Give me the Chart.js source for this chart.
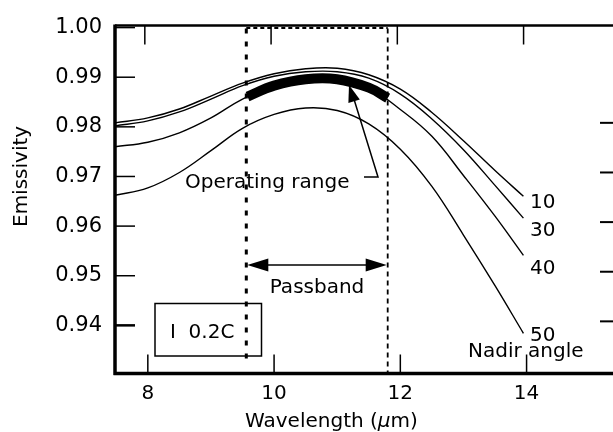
<!DOCTYPE html>
<html>
<head>
<meta charset="utf-8">
<script src="https://cdn.jsdelivr.net/npm/chart.js@4.4.1/dist/chart.umd.min.js"></script>
<style>
	html, body { margin: 0; padding: 0; background: #fff; overflow: hidden; }
	#wrap { width: 625px; height: 432px; }
</style>
</head>
<body>
<div id="wrap"><canvas id="emissivityChart" width="625" height="432"></canvas></div>
<script>
// Wavelength samples (um) and emissivity for each nadir angle
var wavelength = [7.48, 8, 8.5, 9, 9.5, 10, 10.5, 11, 11.5, 12, 12.5, 13, 13.5, 13.95];
var nadir10 = [0.9808, 0.9818, 0.9836, 0.9862, 0.9888, 0.9907, 0.9917, 0.9918, 0.9905, 0.9876, 0.9829, 0.9772, 0.9712, 0.9660];
var nadir30 = [0.9802, 0.9812, 0.9830, 0.9856, 0.9883, 0.9902, 0.9911, 0.9911, 0.9898, 0.9866, 0.9816, 0.9754, 0.9682, 0.9616];
var nadir40 = [0.9760, 0.9769, 0.9788, 0.9818, 0.9856, 0.9882, 0.9895, 0.9895, 0.9878, 0.9835, 0.9781, 0.9702, 0.9620, 0.9541];
var nadir50 = [0.9662, 0.9677, 0.9708, 0.9752, 0.9797, 0.9825, 0.9838, 0.9833, 0.9806, 0.9755, 0.9680, 0.9582, 0.9480, 0.9384];

// Operating range (thick band) and passband limits
var operatingX = [9.58, 10, 10.5, 11, 11.5, 11.8];
var operatingRange = [0.9861, 0.9883, 0.9896, 0.9896, 0.9879, 0.9858];
var passband = [9.56, 11.8];

// Axis ticks
var xTicks = [8, 10, 12, 14];
var yTicks = [0.94, 0.95, 0.96, 0.97, 0.98, 0.99, 1.00];
var rightTicks = [0.94, 0.95, 0.96, 0.97, 0.98];

var FONT = '"DejaVu Sans", Verdana, sans-serif';
Chart.defaults.font.family = FONT;
Chart.defaults.color = '#000';

function toPoints(xs, ys) {
	return xs.map(function(x, i) { return { x: x, y: ys[i] }; });
}

function curve(label, values) {
	return {
		label: label,
		data: toPoints(wavelength, values),
		borderColor: '#000',
		borderWidth: 1.4,
		pointRadius: 0,
		tension: 0.4,
		fill: false
	};
}

function arrowHead(ctx, tipX, tipY, fromX, fromY, len, half) {
	var a = Math.atan2(tipY - fromY, tipX - fromX);
	var bx = tipX - len * Math.cos(a), by = tipY - len * Math.sin(a);
	ctx.beginPath();
	ctx.moveTo(tipX, tipY);
	ctx.lineTo(bx + half * Math.sin(a), by - half * Math.cos(a));
	ctx.lineTo(bx - half * Math.sin(a), by + half * Math.cos(a));
	ctx.closePath();
	ctx.fill();
}

// Frame, inward ticks, passband markers and annotations
var decorations = {
	id: 'decorations',
	afterDraw: function(chart) {
		var ctx = chart.ctx, area = chart.chartArea;
		var xs = chart.scales.x, ys = chart.scales.y;
		ctx.save();
		ctx.strokeStyle = '#000';
		ctx.fillStyle = '#000';

		// inward tick marks
		ctx.lineWidth = 1.5;
		xTicks.forEach(function(v) {
			var px = xs.getPixelForValue(v);
			ctx.beginPath();
			ctx.moveTo(px, area.bottom); ctx.lineTo(px, area.bottom - 19);
			ctx.moveTo(px - 3, area.top); ctx.lineTo(px - 3, area.top + 19);
			ctx.stroke();
		});
		yTicks.forEach(function(v) {
			var py = ys.getPixelForValue(v);
			ctx.lineWidth = v === 0.94 ? 2.5 : 1.5;
			ctx.beginPath();
			ctx.moveTo(area.left, py); ctx.lineTo(area.left + 20, py);
			ctx.stroke();
		});
		ctx.lineWidth = 2;
		rightTicks.forEach(function(v) {
			var py = ys.getPixelForValue(v) - 4;
			ctx.beginPath();
			ctx.moveTo(area.right, py); ctx.lineTo(area.right - 20, py);
			ctx.stroke();
		});

		// frame
		ctx.lineWidth = 3.5;
		ctx.beginPath();
		ctx.moveTo(area.left, area.top - 1); ctx.lineTo(area.left, area.bottom + 1.5);
		ctx.moveTo(area.left - 1.5, area.bottom); ctx.lineTo(chart.width, area.bottom);
		ctx.stroke();
		ctx.lineWidth = 2.5;
		ctx.beginPath();
		ctx.moveTo(area.left, area.top); ctx.lineTo(chart.width, area.top);
		ctx.moveTo(area.right, area.top); ctx.lineTo(area.right, area.bottom);
		ctx.stroke();

		// passband dashed limits
		var p0 = xs.getPixelForValue(passband[0]);
		var p1 = xs.getPixelForValue(passband[1]);
		ctx.lineWidth = 3;
		ctx.setLineDash([5, 8]);
		ctx.beginPath();
		ctx.moveTo(p0, area.top + 3); ctx.lineTo(p0, area.bottom - 7);
		ctx.stroke();
		ctx.lineWidth = 1.8;
		ctx.setLineDash([5, 4]);
		ctx.beginPath();
		ctx.moveTo(p1, area.top + 3); ctx.lineTo(p1, area.bottom);
		ctx.stroke();
		ctx.lineWidth = 2;
		ctx.setLineDash([4, 3]);
		ctx.beginPath();
		ctx.moveTo(p0, area.top + 2.5); ctx.lineTo(p1, area.top + 2.5);
		ctx.stroke();
		ctx.setLineDash([]);

		// passband arrow
		var ay = 265;
		ctx.lineWidth = 1.5;
		ctx.beginPath();
		ctx.moveTo(p0 + 10, ay); ctx.lineTo(p1 - 10, ay);
		ctx.stroke();
		arrowHead(ctx, p0 + 1, ay, p1, ay, 21, 6.5);
		arrowHead(ctx, p1 - 1, ay, p0, ay, 21, 6.5);

		// operating range pointer
		ctx.beginPath();
		ctx.moveTo(364, 177); ctx.lineTo(378, 177); ctx.lineTo(353, 96);
		ctx.stroke();
		arrowHead(ctx, 349, 85, 378, 177, 17, 6);

		// scale box
		ctx.lineWidth = 1.5;
		ctx.strokeRect(155, 303.5, 106.5, 52.5);

		// texts
		ctx.font = '20px ' + FONT;
		ctx.textBaseline = 'alphabetic';
		ctx.textAlign = 'left';
		ctx.fillText('10', 530, 208);
		ctx.fillText('30', 530, 236);
		ctx.fillText('40', 530, 274);
		ctx.fillText('50', 530, 341);
		ctx.fillText('Nadir angle', 468, 357);
		ctx.fillText('Operating range', 185, 187.5);
		ctx.fillText('I  0.2C', 170, 338);
		ctx.textAlign = 'center';
		ctx.fillText('Passband', (p0 + p1) / 2, 292.5);

		// axis titles
		ctx.textAlign = 'left';
		var tx = 245, ty = 427;
		ctx.fillText('Wavelength (', tx, ty);
		tx += ctx.measureText('Wavelength (').width;
		ctx.font = 'italic 20px ' + FONT;
		ctx.fillText('\u00b5', tx, ty);
		tx += ctx.measureText('\u00b5').width;
		ctx.font = '20px ' + FONT;
		ctx.fillText('m)', tx, ty);

		ctx.translate(27, 227);
		ctx.rotate(-Math.PI / 2);
		ctx.fillText('Emissivity', 0, 0);
		ctx.restore();
	}
};

var emissivityChart = new Chart(document.getElementById('emissivityChart'), {
	type: 'line',
	data: {
		datasets: [
			{
				label: 'Operating range',
				data: toPoints(operatingX, operatingRange),
				borderColor: '#000',
				borderWidth: 10,
				borderCapStyle: 'butt',
				pointRadius: 0,
				tension: 0.4,
				fill: false
			},
			curve('10', nadir10),
			curve('30', nadir30),
			curve('40', nadir40),
			curve('50', nadir50)
		]
	},
	options: {
		responsive: false,
		animation: false,
		devicePixelRatio: 1,
		layout: { padding: { top: 17, right: 5, left: 0, bottom: 0 } },
		plugins: {
			legend: { display: false },
			tooltip: { enabled: false }
		},
		scales: {
			x: {
				type: 'linear',
				min: 7.48,
				max: 15.48,
				afterBuildTicks: function(s) { s.ticks = xTicks.map(function(v) { return { value: v }; }); },
				afterFit: function(s) { s.height = 58.5; },
				ticks: { font: { size: 20 }, color: '#000', padding: 8, maxRotation: 0, autoSkip: false },
				grid: { display: false, drawTicks: false },
				border: { display: false }
			},
			y: {
				type: 'linear',
				min: 0.9303,
				max: 1.0004,
				afterBuildTicks: function(s) { s.ticks = yTicks.map(function(v) { return { value: v }; }); },
				afterFit: function(s) { s.width = 115; },
				ticks: {
					font: { size: 21 },
					color: '#000',
					padding: 13,
					callback: function(v) { return v.toFixed(2); }
				},
				grid: { display: false, drawTicks: false },
				border: { display: false }
			}
		}
	},
	plugins: [decorations]
});
</script>
</body>
</html>
